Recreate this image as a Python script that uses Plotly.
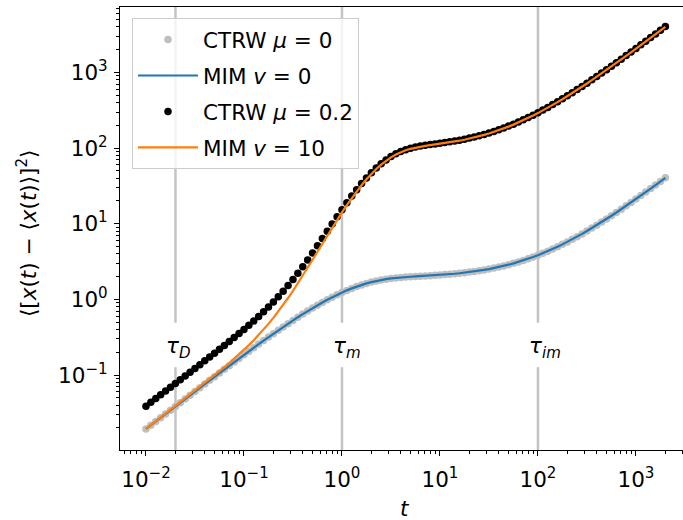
import numpy as np
import plotly.graph_objects as go

# ---- data ----
t = np.logspace(-2, 3.3, 107)  # sampling times, 0.05-decade steps

ctrw_mu0 = [0.0194, 0.0218, 0.0244, 0.0274, 0.0307, 0.0344, 0.0385, 0.0432, 0.0484, 0.0542,
            0.0607, 0.0680, 0.0761, 0.0852, 0.0953, 0.1066, 0.1192, 0.1332, 0.1487, 0.1661,
            0.1855, 0.2069, 0.2306, 0.2569, 0.2858, 0.3176, 0.3526, 0.3911, 0.4331, 0.4788,
            0.5285, 0.5824, 0.6403, 0.7025, 0.7688, 0.8389, 0.9128, 0.9898, 1.0696, 1.1514,
            1.2343, 1.3173, 1.3995, 1.4796, 1.5561, 1.6281, 1.6947, 1.7550, 1.8083, 1.8544,
            1.8936, 1.9264, 1.9536, 1.9762, 1.9956, 2.0130, 2.0295, 2.0461, 2.0637, 2.0828,
            2.104, 2.128, 2.154, 2.184, 2.217, 2.254, 2.296, 2.343, 2.396, 2.455,
            2.521, 2.596, 2.680, 2.773, 2.879, 2.997, 3.129, 3.278, 3.444, 3.632,
            3.842, 4.077, 4.341, 4.639, 4.971, 5.343, 5.762, 6.233, 6.760, 7.351,
            8.015, 8.760, 9.596, 10.53, 11.59, 12.77, 14.09, 15.58, 17.24, 19.12,
            21.22, 23.57, 26.21, 29.19, 32.51, 36.23, 40.42]

# MIM v=0 coincides with CTRW mu=0 in the picture
mim_v0 = list(ctrw_mu0)

mim_v10 = [0.0194, 0.0218, 0.0245, 0.0275, 0.0308, 0.0346, 0.0388, 0.0436, 0.0489, 0.0549,
           0.0617, 0.0694, 0.0781, 0.0880, 0.0993, 0.1122, 0.1271, 0.1442, 0.1641, 0.1877,
           0.2157, 0.2490, 0.2893, 0.3386, 0.3993, 0.4750, 0.5704, 0.6918, 0.8471, 1.044,
           1.301, 1.633, 2.064, 2.622, 3.343, 4.270, 5.458, 6.964, 8.860, 11.22,
           14.12, 17.64, 21.84, 26.77, 32.39, 38.69, 45.57, 52.87, 60.46, 68.03,
           75.35, 82.16, 88.25, 93.51, 97.90, 101.50, 104.47, 106.98, 109.24, 111.43,
           113.69, 116.14, 118.85, 121.87, 125.24, 129.02, 133.28, 138.06, 143.42, 149.41,
           156.15, 163.73, 172.21, 181.74, 192.43, 204.41, 217.87, 232.95, 249.88, 268.90,
           290.21, 314.13, 340.99, 371.19, 404.90, 442.74, 485.28, 533.12, 586.64, 646.63,
           714.08, 789.75, 874.65, 969.92, 1076.8, 1196.6, 1331.2, 1482.0, 1651.4, 1841.6,
           2054.7, 2293.9, 2562.4, 2864.4, 3201.6, 3579.9, 4005.4]

ctrw_mu02 = [0.0388, 0.0436, 0.0489, 0.0549, 0.0615, 0.0690, 0.0773, 0.0868, 0.0973, 0.1091,
             0.1224, 0.1374, 0.1542, 0.1732, 0.1946, 0.2188, 0.2463, 0.2774, 0.3128, 0.3538,
             0.4012, 0.4559, 0.5199, 0.5955, 0.6851, 0.7926, 0.9230, 1.0829, 1.2802, 1.523,
             1.830, 2.215, 2.704, 3.325, 4.112, 5.109, 6.371, 7.954, 9.930, 12.37,
             15.35, 18.96, 23.24, 28.25, 33.95, 40.32, 47.26, 54.63, 62.27, 69.88,
             77.24, 84.09, 90.20, 95.49, 99.90, 103.51, 106.50, 109.03, 111.30, 113.51,
             115.79, 118.27, 121.00, 124.05, 127.46, 131.27, 135.58, 140.40, 145.82, 151.87,
             158.67, 166.33, 174.89, 184.51, 195.31, 207.41, 221.00, 236.23, 253.32, 272.53,
             294.05, 318.21, 345.33, 375.83, 409.87, 448.08, 491.04, 539.35, 593.40, 653.98,
             722.10, 798.51, 884.25, 980.45, 1088.4, 1209.4, 1345.3, 1497.6, 1668.6, 1860.7,
             2075.9, 2317.5, 2588.6, 2893.6, 3234.1, 3616.1, 4045.8]

tau_values = [0.02, 1.0, 100.0]
tau_labels = ["<i>τ</i><sub><i>D</i></sub>", "<i>τ</i><sub><i>m</i></sub>", "<i>τ</i><sub><i>im</i></sub>"]

x_tickvals = [1e-2, 1e-1, 1e0, 1e1, 1e2, 1e3]
x_ticktext = ["10<sup>−2</sup>", "10<sup>−1</sup>", "10<sup>0</sup>", "10<sup>1</sup>", "10<sup>2</sup>", "10<sup>3</sup>"]
y_tickvals = [1e-1, 1e0, 1e1, 1e2, 1e3]
y_ticktext = ["10<sup>−1</sup>", "10<sup>0</sup>", "10<sup>1</sup>", "10<sup>2</sup>", "10<sup>3</sup>"]

FONT = "DejaVu Sans"
FS = 21.5

minor_vals = [m * 10.0 ** d for d in range(-3, 4) for m in range(2, 10)]

fig = go.Figure()
fig.add_trace(go.Scatter(x=t, y=ctrw_mu0, mode="markers", name="CTRW <i>μ</i> = 0",
                         legendgroup="a", marker=dict(color="#bfbfbf", size=7.5)))
fig.add_trace(go.Scatter(x=t, y=mim_v0, mode="lines", name="MIM <i>v</i> = 0",
                         legendgroup="b", line=dict(color="#1f77b4", width=2.2)))
fig.add_trace(go.Scatter(x=t, y=ctrw_mu02, mode="markers", name="CTRW <i>μ</i> = 0.2",
                         legendgroup="c", marker=dict(color="black", size=7.5)))
fig.add_trace(go.Scatter(x=t, y=mim_v10, mode="lines", name="MIM <i>v</i> = 10",
                         legendgroup="d", line=dict(color="#ff7f0e", width=2.2)))

# vertical reference lines with a gap for the label
gap_lo, gap_hi = 0.187, 0.287
for tv, lab in zip(tau_values, tau_labels):
    fig.add_shape(type="line", xref="x", yref="paper", x0=tv, x1=tv, y0=0, y1=gap_lo,
                  line=dict(color="#c4c4c4", width=2.5), layer="below")
    fig.add_shape(type="line", xref="x", yref="paper", x0=tv, x1=tv, y0=gap_hi, y1=1,
                  line=dict(color="#c4c4c4", width=2.5), layer="below")
    fig.add_annotation(x=np.log10(tv), xref="x", y=0.2325, yref="paper", text=lab,
                       showarrow=False, xanchor="left", yanchor="middle", xshift=-11,
                       font=dict(family=FONT, size=FS, color="black"))

# axis titles
fig.add_annotation(x=0.506, y=-0.131, xref="paper", yref="paper", text="<i>t</i>",
                   showarrow=False, xanchor="center", yanchor="middle",
                   font=dict(family=FONT, size=FS, color="black"))
fig.add_annotation(x=-0.165, y=0.49, xref="paper", yref="paper",
                   text="⟨[<i>x</i>(<i>t</i>) − ⟨<i>x</i>(<i>t</i>)⟩]<sup>2</sup>⟩",
                   textangle=-90, showarrow=False, xanchor="center", yanchor="middle",
                   font=dict(family=FONT, size=FS, color="black"))

axis_common = dict(type="log", showgrid=False, zeroline=False, showline=True,
                   linecolor="black", linewidth=1.1, ticks="outside", ticklen=5,
                   tickwidth=1.1, tickcolor="black",
                   tickfont=dict(family=FONT, size=FS, color="black"),
                   minor=dict(ticks="outside", ticklen=3, tickwidth=0.8, tickcolor="black",
                              tickvals=minor_vals, showgrid=False))

fig.update_layout(
    width=683, height=520,
    margin=dict(l=120, r=0, t=7, b=70),
    paper_bgcolor="white", plot_bgcolor="white",
    font=dict(family=FONT, size=FS, color="black"),
    xaxis=dict(range=[-2.265, 3.48], tickvals=x_tickvals, ticktext=x_ticktext,
               mirror=True, ticklabelstandoff=5, **axis_common),
    yaxis=dict(range=[-1.99, 3.865], tickvals=y_tickvals, ticktext=y_ticktext,
               mirror=False, ticklabelstandoff=2, **axis_common),
    legend=dict(x=0.0213, y=0.975, xanchor="left", yanchor="top",
                bgcolor="rgba(255,255,255,0.8)", bordercolor="#cccccc", borderwidth=1,
                font=dict(family=FONT, size=FS, color="black"),
                tracegroupgap=5, itemsizing="trace", itemwidth=60, entrywidth=226),
    showlegend=True,
)

fig.write_html("out.html")
